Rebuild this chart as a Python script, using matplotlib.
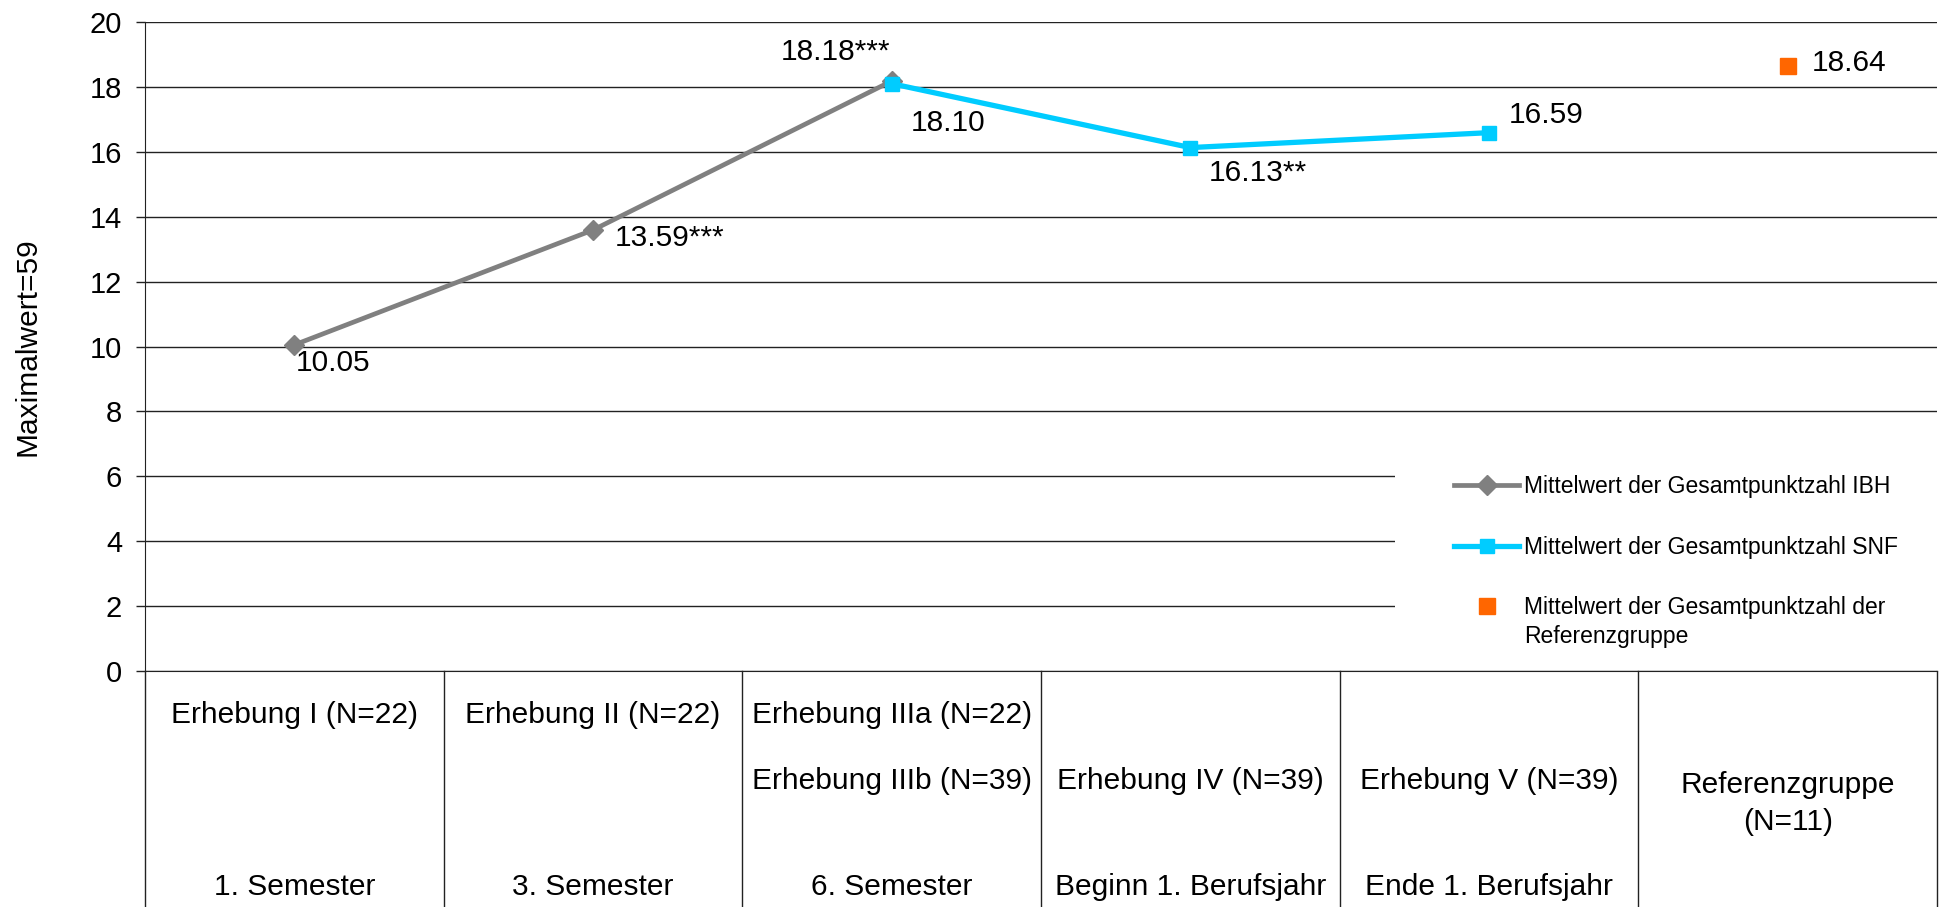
import numpy as np
import matplotlib
matplotlib.use("Agg")
import matplotlib.pyplot as plt
from matplotlib.lines import Line2D
from matplotlib.patches import Rectangle
import matplotlib.transforms as mtransforms

plt.rcParams['font.family'] = ['Liberation Sans', 'DejaVu Sans']

# data
row1 = ["Erhebung I (N=22)", "Erhebung II (N=22)", "Erhebung IIIa (N=22)", "", "", ""]
row2 = ["", "", "Erhebung IIIb (N=39)", "Erhebung IV (N=39)", "Erhebung V (N=39)", "Referenzgruppe\n(N=11)"]
row3 = ["1. Semester", "3. Semester", "6. Semester", "Beginn 1. Berufsjahr", "Ende 1. Berufsjahr", ""]

ibh = [10.05, 13.59, 18.18, np.nan, np.nan, np.nan]
snf = [np.nan, np.nan, 18.10, 16.13, 16.59, np.nan]
ref = [np.nan, np.nan, np.nan, np.nan, np.nan, 18.64]

ibh_labels = ["10.05", "13.59***", "18.18***"]
snf_labels = ["18.10", "16.13**", "16.59"]
ref_labels = ["18.64"]

legend_labels = ["Mittelwert der Gesamtpunktzahl IBH",
                 "Mittelwert der Gesamtpunktzahl SNF",
                 "Mittelwert der Gesamtpunktzahl der"]
legend_extra = "Referenzgruppe"

c_ibh = '#808080'
c_snf = '#00CCFF'
c_ref = '#FF6600'

W, H = 1944, 907
fig = plt.figure(figsize=(W / 100, H / 100), dpi=100)
ax = fig.add_axes([145 / W, 1 - 671 / H, (1937 - 145) / W, (671 - 22) / H])

x = np.arange(len(row1)) + 0.5
ax.set_xlim(0, len(row1))
ax.set_ylim(0, 20)
ax.set_yticks(np.arange(0, 21, 2))
ax.set_xticks([])
ax.set_axisbelow(True)
ax.yaxis.grid(True, color='#222222', linewidth=1.0)
ax.tick_params(axis='y', length=6.5, width=1, pad=10, labelsize=21, color='#222222')
for s in ['top', 'right']:
    ax.spines[s].set_visible(False)
ax.spines['left'].set_color('#222222')
ax.spines['bottom'].set_color('#222222')
ax.set_ylabel("Maximalwert=59", fontsize=21.5)
ax.yaxis.set_label_coords(-0.058, 0.5)

# white area behind the legend hides the lower gridlines
ax.add_patch(Rectangle((0.6975, 0.002), 0.31, 0.355, transform=ax.transAxes,
                       facecolor='white', edgecolor='none', zorder=1, clip_on=False))

ax.plot(x, ibh, color=c_ibh, lw=3.4, marker='D', ms=10, zorder=3)
ax.plot(x, snf, color=c_snf, lw=3.8, marker='s', ms=10.5, zorder=4)
ax.plot(x, ref, color=c_ref, lw=0, marker='s', ms=11.5, zorder=4)

# data labels (offsets in points)
ibh_off = [((1, -13), 'left'), ((16, -6), 'left'), ((-1, 21), 'right')]
snf_off = [((14, -28), 'left'), ((13, -18), 'left'), ((14, 13), 'left')]
for i, (lab, (off, ha)) in enumerate(zip(ibh_labels, ibh_off)):
    ax.annotate(lab, (x[i], ibh[i]), xytext=off, textcoords='offset points',
                ha=ha, va='center', fontsize=21.5, zorder=6)
for i, (lab, (off, ha)) in enumerate(zip(snf_labels, snf_off)):
    ax.annotate(lab, (x[i + 2], snf[i + 2]), xytext=off, textcoords='offset points',
                ha=ha, va='center', fontsize=21.5, zorder=6)
ax.annotate(ref_labels[0], (x[5], ref[5]), xytext=(17, 2), textcoords='offset points',
            ha='left', va='center', fontsize=21.5, zorder=6)

# category table under the axis
trans = mtransforms.blended_transform_factory(ax.transData, ax.transAxes)
bottom = -(H - 671) / (671 - 22) - 0.01
for xv in range(len(row1) + 1):
    ax.plot([xv, xv], [0, bottom], transform=trans, color='#222222', lw=1,
            clip_on=False, zorder=5)
for i in range(len(row1)):
    ax.text(x[i], -0.068, row1[i], transform=trans, ha='center', va='center', fontsize=21.5)
    ax.text(x[i], -0.170 if '\n' not in row2[i] else -0.204, row2[i], transform=trans,
            ha='center', va='center', fontsize=21.5, linespacing=1.4)
    ax.text(x[i], -0.333, row3[i], transform=trans, ha='center', va='center', fontsize=21.5)

handles = [Line2D([], [], color=c_ibh, lw=3.4, marker='D', ms=10),
           Line2D([], [], color=c_snf, lw=3.8, marker='s', ms=10.5),
           Line2D([], [], color=c_ref, lw=0, marker='s', ms=11.5)]
leg = ax.legend(handles, legend_labels, loc='upper left',
                bbox_to_anchor=(1454 / W, 1 - 475 / H), bbox_transform=fig.transFigure,
                frameon=False, fontsize=16.5, handlelength=2.85, handletextpad=0.2,
                labelspacing=1.64, borderpad=0, borderaxespad=0)
leg.set_zorder(6)

# second line of the last legend entry
fig.canvas.draw()
bb = leg.get_texts()[2].get_window_extent()
fig.text(bb.x0, bb.y0 - 6, legend_extra, transform=None, fontsize=16.5,
         ha='left', va='top')

fig.savefig("out.png", dpi=100)
